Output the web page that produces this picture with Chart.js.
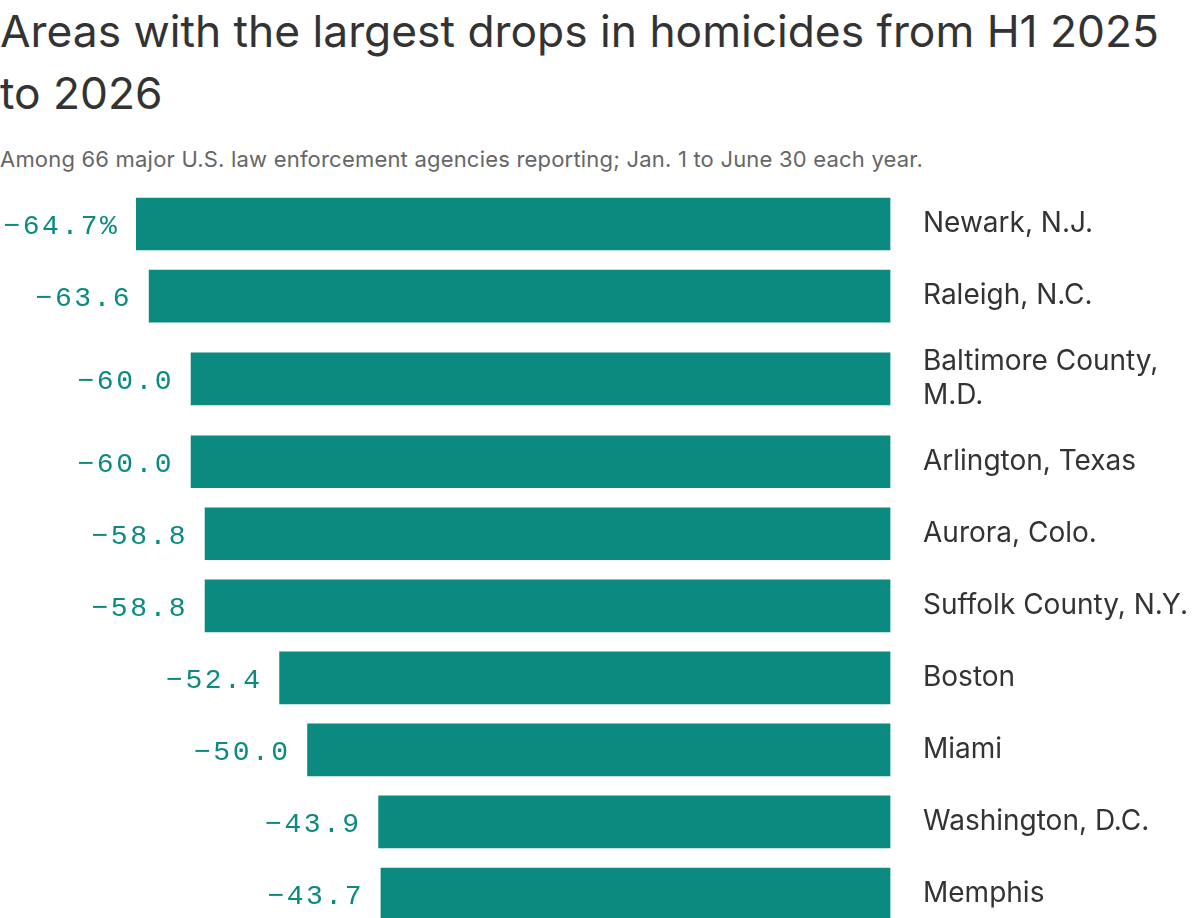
<!DOCTYPE html>
<html>
<head>
<meta charset="utf-8">
<script src="https://cdn.jsdelivr.net/npm/chart.js@4"></script>
<style>
  html, body { margin: 0; padding: 0; background: #fff; overflow: hidden; width: 1200px; height: 918px; }
  #title { position: absolute; left: 0; top: 0; font-family: Inter, sans-serif; font-size: 44.3px; line-height: 62px; color: #333; font-weight: 400; letter-spacing: 0; white-space: nowrap; }
  #subtitle { position: absolute; left: 0; top: 146px; font-family: Inter, sans-serif; font-size: 22px; line-height: 26px; color: #666; letter-spacing: 0.2px; white-space: nowrap; }
  #wrap { position: absolute; left: 0; top: 188px; width: 1200px; height: 742px; }
</style>
</head>
<body>
<div id="title">Areas with the largest drops in homicides from H1 2025<br>to 2026</div>
<div id="subtitle">Among 66 major U.S. law enforcement agencies reporting; Jan. 1 to June 30 each year.</div>
<div id="wrap"><canvas id="c"></canvas></div>
<script>
// ---- data ----
const areas = [
  'Newark, N.J.',
  'Raleigh, N.C.',
  ['Baltimore County,', 'M.D.'],
  'Arlington, Texas',
  'Aurora, Colo.',
  'Suffolk County, N.Y.',
  'Boston',
  'Miami',
  'Washington, D.C.',
  'Memphis'
];
const changes = [-64.7, -63.6, -60.0, -60.0, -58.8, -58.8, -52.4, -50.0, -43.9, -43.7];
const valueLabels = ['\u221264.7%', '\u221263.6', '\u221260.0', '\u221260.0', '\u221258.8', '\u221258.8', '\u221252.4', '\u221250.0', '\u221243.9', '\u221243.7'];

// ---- row positions derived from how many lines each label has ----
const lineCount = a => Array.isArray(a) ? a.length : 1;
const rowPos = [];
areas.forEach((a, i) => {
  if (i === 0) { rowPos.push(0); return; }
  const extra = 0.15 * ((lineCount(areas[i - 1]) - 1) + (lineCount(a) - 1));
  rowPos.push(rowPos[i - 1] + 1 + extra);
});

const TEAL = '#0b8a80';

const valueLabelPlugin = {
  id: 'valueLabels',
  afterDatasetsDraw(chart) {
    const ctx = chart.ctx;
    const meta = chart.getDatasetMeta(0);
    ctx.save();
    ctx.font = '28px "Liberation Mono", "DejaVu Sans Mono", monospace';
    ctx.fillStyle = TEAL;
    ctx.textAlign = 'right';
    ctx.textBaseline = 'alphabetic';
    if ('letterSpacing' in ctx) ctx.letterSpacing = '2.5px';
    meta.data.forEach((bar, i) => {
      const left = Math.min(bar.x, bar.base);
      ctx.fillText(valueLabels[i], left - 17, bar.y + 10);
    });
    ctx.restore();
  }
};

new Chart(document.getElementById('c'), {
  type: 'bar',
  data: {
    datasets: [{
      data: changes.map((v, i) => ({ x: v, y: rowPos[i] })),
      backgroundColor: TEAL,
      borderWidth: 0,
      barThickness: 52
    }]
  },
  options: {
    indexAxis: 'y',
    responsive: true,
    maintainAspectRatio: false,
    animation: false,
    layout: { padding: 0, autoPadding: false },
    plugins: { legend: { display: false }, tooltip: { enabled: false } },
    scales: {
      x: {
        type: 'linear',
        display: false,
        offset: false,
        min: -76.4,
        max: 2.83
      },
      y: {
        type: 'linear',
        position: 'right',
        reverse: true,
        offset: false,
        min: -0.5,
        max: rowPos[rowPos.length - 1] + 0.5,
        grid: { display: false, drawTicks: false, offset: false },
        border: { display: false },
        afterBuildTicks(scale) { scale.ticks = rowPos.map(v => ({ value: v })); },
        afterFit(scale) {
          scale.width = 277;
          scale.paddingTop = 0;
          scale.paddingBottom = 0;
        },
        ticks: {
          autoSkip: false,
          padding: 0,
          color: '#333',
          font: { family: 'Inter, sans-serif', size: 28, lineHeight: 1.21 },
          callback: (value, index) => areas[index]
        }
      }
    }
  },
  plugins: [valueLabelPlugin]
});
</script>
</body>
</html>
